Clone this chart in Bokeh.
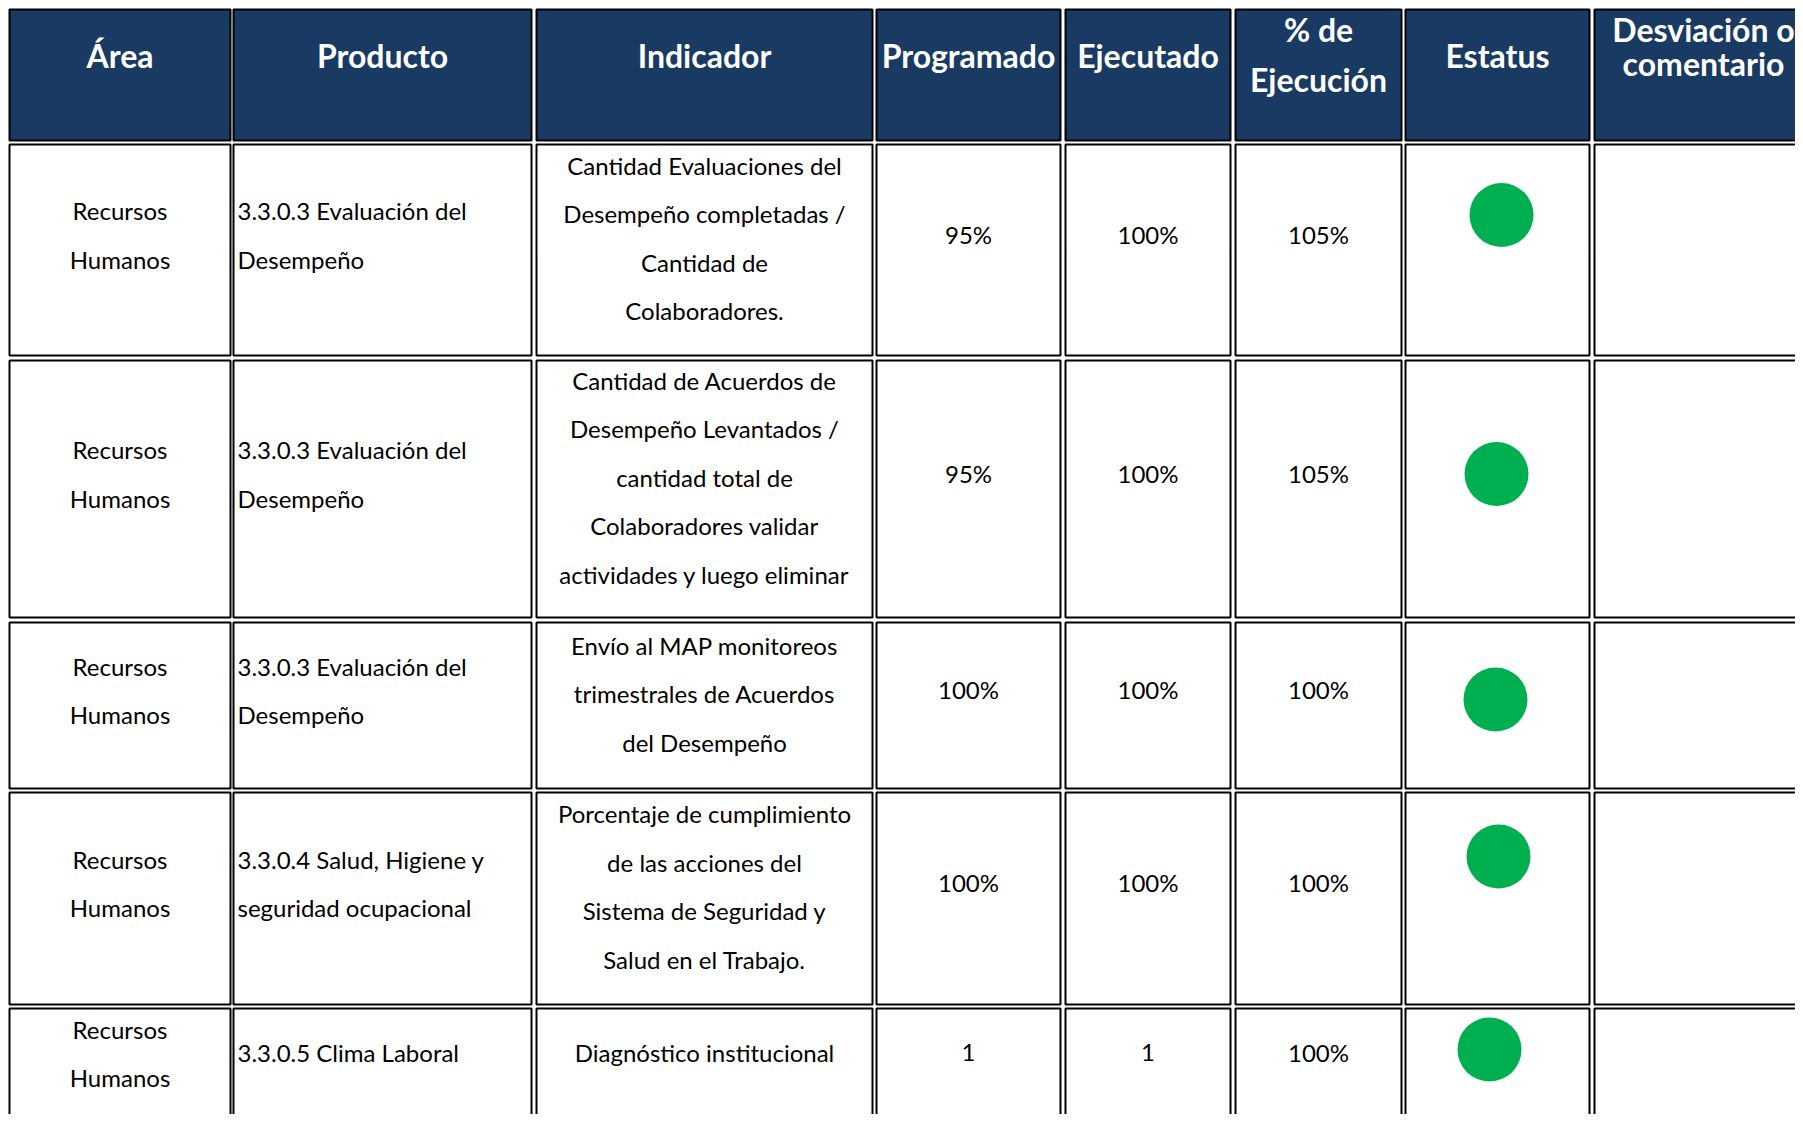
from bokeh.plotting import figure
from bokeh.models import Range1d
from bokeh.core.properties import value
from bokeh.embed import file_html
from bokeh.resources import INLINE

# ---------------- data ----------------
headers = [["Área"], ["Producto"], ["Indicador"], ["Programado"], ["Ejecutado"],
           ["% de", "Ejecución"], ["Estatus"], ["Desviación o", "comentario"]]

areas = [["Recursos", "Humanos"]] * 5
productos = [["3.3.0.3 Evaluación del", "Desempeño"],
             ["3.3.0.3 Evaluación del", "Desempeño"],
             ["3.3.0.3 Evaluación del", "Desempeño"],
             ["3.3.0.4 Salud, Higiene y", "seguridad ocupacional"],
             ["3.3.0.5 Clima Laboral"]]
indicadores = [["Cantidad Evaluaciones del", "Desempeño completadas /", "Cantidad de", "Colaboradores."],
               ["Cantidad de Acuerdos de", "Desempeño Levantados /", "cantidad total de",
                "Colaboradores validar", "actividades y luego eliminar"],
               ["Envío al MAP monitoreos", "trimestrales de Acuerdos", "del Desempeño"],
               ["Porcentaje de cumplimiento", "de las acciones del", "Sistema de Seguridad y",
                "Salud en el Trabajo."],
               ["Diagnóstico institucional"]]
programado = ["95%", "95%", "100%", "100%", "1"]
ejecutado = ["100%", "100%", "100%", "100%", "1"]
pct_ejecucion = ["105%", "105%", "100%", "100%", "100%"]
estatus = ["verde", "verde", "verde", "verde", "verde"]
comentarios = ["", "", "", "", ""]

# ---------------- layout ----------------
col_left = [9, 233, 536, 876, 1065, 1235, 1405, 1594]
col_right = [230, 531, 872, 1060, 1230, 1401, 1589, 1814]
head_top, head_bot = 9, 140
row_top = [144, 360, 622, 792, 1008]
row_bot = [355, 617, 788, 1004, 1128]
status_dx = [4, -1, -2, 1, -8]
status_dy = [-35, -15, -6, -42, -19]

NAVY = "#193a62"
GREEN = "#00b050"
BODY_FONT = "Lato"
HEAD_FONT = "Lato"
BODY_SIZE = "24px"
HEAD_SIZE = "32px"

W, H = 1795, 1114
p = figure(width=W, height=H, x_range=Range1d(0, W), y_range=Range1d(H, 0),
           output_backend="svg", toolbar_location=None, min_border=0)
p.axis.visible = False
p.grid.visible = False
p.outline_line_color = None
p.background_fill_color = "white"
p.border_fill_color = "white"

# header cells
p.quad(left=col_left, right=col_right, top=[head_top] * 8, bottom=[head_bot] * 8,
       fill_color=NAVY, line_color="black", line_width=2)

# body cells
bl, br, bt, bb = [], [], [], []
for r in range(len(row_top)):
    for c in range(len(col_left)):
        bl.append(col_left[c]); br.append(col_right[c])
        bt.append(row_top[r]); bb.append(row_bot[r])
p.quad(left=bl, right=br, top=bt, bottom=bb, fill_color="white", line_color="black", line_width=2)

# header texts
hx, hy, ht = [], [], []
for c, lines in enumerate(headers):
    cx = (col_left[c] + col_right[c]) / 2
    if c == 7:
        cx -= 1
    if len(lines) == 1:
        hx.append(cx); hy.append(55); ht.append(lines[0])
    else:
        spacing = 50 if c == 5 else 34
        center = 54 if c == 5 else 46
        for i, t in enumerate(lines):
            hx.append(cx); hy.append(center + (i - (len(lines) - 1) / 2) * spacing); ht.append(t)
p.text(x=hx, y=hy, text=ht, text_color="white", text_font=value(HEAD_FONT),
       text_font_size=HEAD_SIZE, text_font_style="bold", text_align="center", text_baseline="middle")

# body texts
LH = 48.5
cx_list, cy_list, ct_list = [], [], []
lx_list, ly_list, lt_list = [], [], []
for r in range(len(row_top)):
    rc = (row_top[r] + row_bot[r]) / 2
    if r == 4:
        rc = 1068
    cells = [areas[r], productos[r], indicadores[r], [programado[r]], [ejecutado[r]], [pct_ejecucion[r]]]
    for c, lines in enumerate(cells):
        n = len(lines)
        if n == 1:
            off = -16
        elif c == 2:
            off = -12
        else:
            off = -15
        for i, t in enumerate(lines):
            y = rc + off + (i - (n - 1) / 2) * LH
            if c == 1:
                lx_list.append(col_left[c] + 4); ly_list.append(y); lt_list.append(t)
            else:
                cx_list.append((col_left[c] + col_right[c]) / 2); cy_list.append(y); ct_list.append(t)

p.text(x=cx_list, y=cy_list, text=ct_list, text_color="black", text_font=value(BODY_FONT),
       text_font_size=BODY_SIZE, text_align="center", text_baseline="middle")
p.text(x=lx_list, y=ly_list, text=lt_list, text_color="black", text_font=value(BODY_FONT),
       text_font_size=BODY_SIZE, text_align="left", text_baseline="middle")

# status circles
sx, sy, sc = [], [], []
for r, s in enumerate(estatus):
    rc = (row_top[r] + row_bot[r]) / 2
    sx.append((col_left[6] + col_right[6]) / 2 + status_dx[r])
    sy.append(rc + status_dy[r])
    sc.append(GREEN if s == "verde" else "red")
p.scatter(x=sx, y=sy, size=64, fill_color=sc, line_color=None, marker="circle")

open("out.html", "w").write(file_html(p, INLINE))
